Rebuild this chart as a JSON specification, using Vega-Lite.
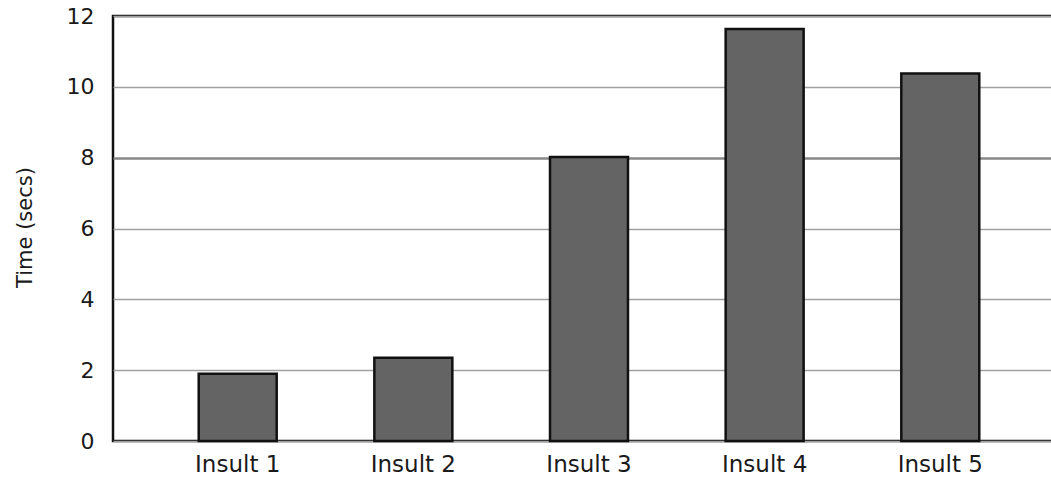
{
  "$schema": "https://vega.github.io/schema/vega-lite/v6.json",
  "autosize": {"type": "none"},
  "padding": {"left": 113, "top": 16, "right": 0, "bottom": 36},
  "width": 952,
  "height": 425,
  "background": "white",
  "config": {
    "view": {"stroke": "#111111", "strokeWidth": 2.5},
    "font": "DejaVu Sans"
  },
  "data": {
    "values": [
      {"insult": "Insult 1", "time": 1.9},
      {"insult": "Insult 2", "time": 2.35},
      {"insult": "Insult 3", "time": 8.02},
      {"insult": "Insult 4", "time": 11.63},
      {"insult": "Insult 5", "time": 10.38}
    ]
  },
  "mark": {"type": "bar", "fill": "#646464", "stroke": "#111111", "strokeWidth": 2.5},
  "encoding": {
    "x": {
      "field": "insult",
      "type": "nominal",
      "sort": null,
      "scale": {"paddingInner": 0.556, "paddingOuter": 0.488},
      "axis": {
        "title": null,
        "labelAngle": 0,
        "labelFont": "DejaVu Sans",
        "labelFontSize": 23,
        "labelColor": "#1a1a1a",
        "labelPadding": 12,
        "ticks": false,
        "domain": false
      }
    },
    "y": {
      "field": "time",
      "type": "quantitative",
      "scale": {"domain": [0, 12], "nice": false},
      "axis": {
        "title": "Time (secs)",
        "titleFont": "DejaVu Sans",
        "titleFontSize": 21,
        "titleFontWeight": "normal",
        "titleColor": "#1a1a1a",
        "titleX": -78,
        "titleY": 211,
        "titleAlign": "center",
        "titleBaseline": "bottom",
        "titleAngle": -90,
        "values": [0, 2, 4, 6, 8, 10, 12],
        "labelFont": "DejaVu Sans",
        "labelFontSize": 22,
        "labelColor": "#1a1a1a",
        "labelPadding": 19,
        "ticks": false,
        "domain": false,
        "grid": true,
        "gridColor": {"condition": {"test": "datum.value === 8", "value": "#888888"}, "value": "#a0a0a0"},
        "gridWidth": {"condition": {"test": "datum.value === 8", "value": 2.5}, "value": 1.5},
        "gridOpacity": 1
      }
    }
  }
}
